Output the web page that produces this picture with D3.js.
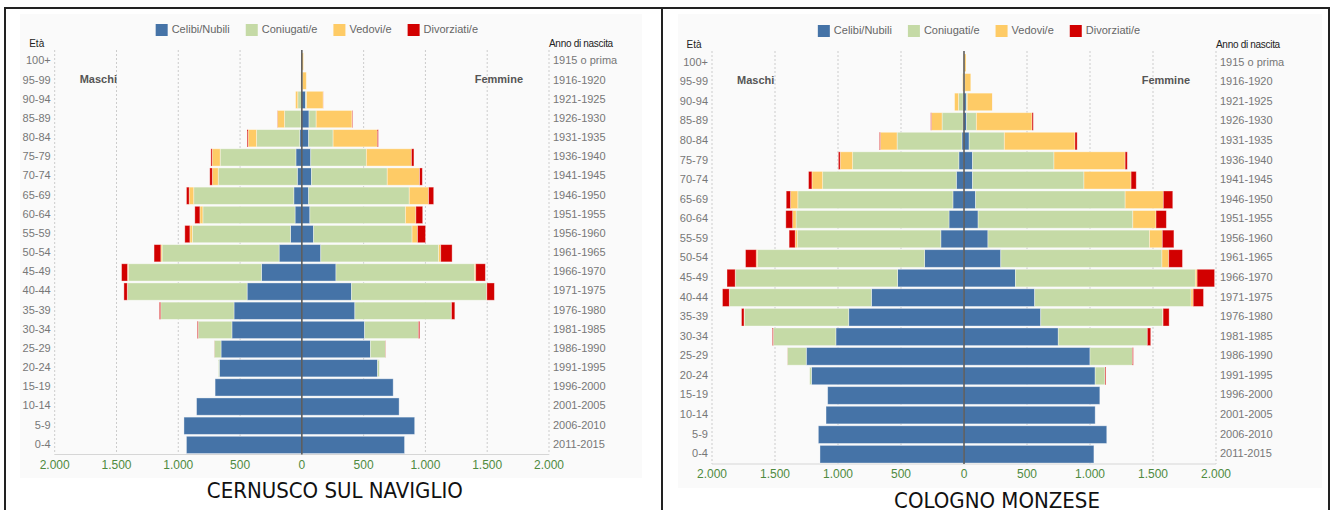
<!DOCTYPE html>
<html>
<head>
<meta charset="utf-8">
<script src="https://cdn.jsdelivr.net/npm/d3@7"></script>
<style>
  body { margin: 0; background: #fff; }
  svg { display: block; font-family: "Liberation Sans", Arial, sans-serif; }
</style>
</head>
<body>
<svg id="chart" width="1331" height="510"></svg>
<script>
// age classes, youngest first
const ages = ["0-4","5-9","10-14","15-19","20-24","25-29","30-34","35-39","40-44","45-49",
  "50-54","55-59","60-64","65-69","70-74","75-79","80-84","85-89","90-94","95-99","100+"];
const births = ["2011-2015","2006-2010","2001-2005","1996-2000","1991-1995","1986-1990","1981-1985",
  "1976-1980","1971-1975","1966-1970","1961-1965","1956-1960","1951-1955","1946-1950","1941-1945",
  "1936-1940","1931-1935","1926-1930","1921-1925","1916-1920","1915 o prima"];
const states = ["Celibi/Nubili", "Coniugati/e", "Vedovi/e", "Divorziati/e"];
const colors = ["#4573a7", "#c5daa6", "#fecb66", "#d20000"];
const ticks = [-2000, -1500, -1000, -500, 0, 500, 1000, 1500, 2000];

// Cernusco sul Naviglio: [celibi, coniugati, vedovi, divorziati]
const cernuscoM = [[934,0,0,0],[954,0,0,0],[852,0,0,0],[702,0,0,0],[668,7,0,0],[654,55,0,1],
  [566,273,0,7],[549,593,1,10],[443,968,2,27],[327,1077,7,48],[184,947,10,55],[92,794,20,41],
  [55,746,24,41],[65,810,37,22],[37,640,48,20],[48,613,65,10],[17,350,68,8],[7,133,58,2],
  [3,30,18,0],[0,2,6,0],[0,0,3,0]];
const cernuscoF = [[831,0,0,0],[913,0,0,0],[787,0,0,0],[739,0,0,0],[613,14,0,0],[555,123,0,2],
  [508,436,0,10],[429,780,2,27],[402,1094,1,61],[276,1121,10,78],[153,954,17,92],[95,797,44,65],
  [65,773,85,55],[55,814,157,41],[78,613,262,22],[72,450,365,20],[55,198,358,8],[58,58,290,5],
  [30,8,135,1],[1,3,32,0],[0,1,12,0]];

// Cologno Monzese
const colognoM = [[1143,0,0,0],[1156,0,0,0],[1095,0,0,0],[1082,0,0,0],[1211,14,0,0],[1252,150,0,1],
  [1017,497,0,7],[915,830,1,20],[735,1126,2,54],[527,1286,3,65],[313,1326,10,85],[184,1139,17,48],
  [119,1214,27,54],[88,1231,58,34],[61,1061,85,27],[41,843,99,14],[17,514,133,7],[7,167,85,5],
  [7,37,31,0],[1,2,8,0],[0,0,4,0]];
const colognoF = [[1031,0,0,0],[1133,0,0,0],[1041,0,0,0],[1078,0,0,0],[1041,78,0,7],[1000,337,0,7],
  [748,707,0,27],[609,969,2,48],[561,1241,17,82],[408,1428,14,139],[292,1279,54,109],[190,1282,102,92],
  [112,1228,184,82],[92,1187,303,75],[68,884,374,41],[68,646,565,17],[41,279,561,17],[20,78,442,10],
  [18,8,200,1],[3,3,48,0],[0,1,15,0]];

const svg = d3.select("#chart");
const fmt = v => d3.format(",")(Math.abs(v)).replace(/,/g, ".");

// outer frame
svg.append("rect").attr("x", 20).attr("y", 14).attr("width", 622).attr("height", 464).attr("fill", "#fafafa");
svg.append("rect").attr("x", 678).attr("y", 14).attr("width", 644).attr("height", 474).attr("fill", "#fafafa");
svg.append("rect").attr("x", 5).attr("y", 8).attr("width", 1324).attr("height", 520)
  .attr("fill", "none").attr("stroke", "#222").attr("stroke-width", 2);
svg.append("line").attr("x1", 662).attr("x2", 662).attr("y1", 8).attr("y2", 510)
  .attr("stroke", "#222").attr("stroke-width", 2);

function pyramid(o) {
  const g = svg.append("g");
  const x = d3.scaleLinear().domain([-2000, 2000]).range([o.x0, o.x1]);
  const y = d3.scaleBand().domain(ages.slice().reverse()).range([o.top, o.bottom]).paddingInner(0.1).paddingOuter(0.05);
  const cx = x(0);

  // grid
  g.selectAll(".grid").data(ticks.filter(t => t !== 0)).enter().append("line")
    .attr("x1", d => x(d)).attr("x2", d => x(d))
    .attr("y1", o.top - 2).attr("y2", o.bottom)
    .attr("stroke", "#ccc").attr("stroke-dasharray", "2,2");
  g.append("line").attr("x1", o.x0).attr("x2", o.x1).attr("y1", o.bottom).attr("y2", o.bottom)
    .attr("stroke", "#d6d6d6");

  // bars
  const stackRows = (rows, sign) => {
    const out = [];
    rows.forEach((r, i) => {
      let acc = 0;
      r.forEach((v, k) => {
        out.push({ age: ages[i], k: k, a: acc * sign, b: (acc + v) * sign });
        acc += v;
      });
    });
    return out.filter(d => d.a !== d.b);
  };
  [[o.m, -1], [o.f, 1]].forEach(([rows, sign]) => {
    g.append("g").selectAll("rect").data(stackRows(rows, sign)).enter().append("rect")
      .attr("x", d => Math.min(x(d.a), x(d.b)))
      .attr("width", d => Math.abs(x(d.b) - x(d.a)))
      .attr("y", d => y(d.age))
      .attr("height", y.bandwidth())
      .attr("fill", d => colors[d.k])
      .attr("stroke", "#fff").attr("stroke-opacity", 0.45).attr("stroke-width", 0.8);
  });

  g.append("line").attr("x1", cx).attr("x2", cx).attr("y1", o.top - 2).attr("y2", o.bottom)
    .attr("stroke", "#555").attr("stroke-width", 1.5);

  // x axis labels
  g.selectAll(".tick").data(ticks).enter().append("text")
    .attr("x", d => x(d)).attr("y", o.axisY)
    .attr("text-anchor", "middle").attr("dominant-baseline", "middle")
    .attr("font-size", 12).attr("fill", "#4f8a3f").text(fmt);

  // age labels and years
  g.selectAll(".age").data(ages).enter().append("text")
    .attr("x", o.x0 - 4).attr("y", d => y(d) + y.bandwidth() / 2)
    .attr("text-anchor", "end").attr("dominant-baseline", "middle")
    .attr("font-size", 11).attr("fill", "#777").text(d => d);
  g.selectAll(".year").data(births).enter().append("text")
    .attr("x", o.x1 + 4).attr("y", (d, i) => y(ages[i]) + y.bandwidth() / 2)
    .attr("dominant-baseline", "middle")
    .attr("font-size", 11).attr("fill", "#777").text(d => d);

  g.append("text").attr("x", o.x0 - 18).attr("y", o.top - 5).attr("text-anchor", "middle")
    .attr("font-size", 10).attr("fill", "#222").text("Età");
  g.append("text").attr("x", o.x1).attr("y", o.top - 5)
    .attr("font-size", 10).attr("fill", "#222").attr("letter-spacing", -0.3).text("Anno di nascita");
  g.append("text").attr("x", o.x0 + 25).attr("y", o.top + 28).attr("dominant-baseline", "middle")
    .attr("font-size", 11).attr("font-weight", "bold").attr("fill", "#555").text("Maschi");
  g.append("text").attr("x", o.x1 - 26).attr("y", o.top + 28).attr("dominant-baseline", "middle")
    .attr("text-anchor", "end")
    .attr("font-size", 11).attr("font-weight", "bold").attr("fill", "#555").text("Femmine");

  // legend
  const lg = g.append("g");
  let lx = 0;
  states.forEach((s, i) => {
    lg.append("rect").attr("x", lx).attr("y", -6).attr("width", 12).attr("height", 12).attr("fill", colors[i]);
    const t = lg.append("text").attr("x", lx + 16).attr("y", 0).attr("dominant-baseline", "middle")
      .attr("font-size", 11).attr("fill", "#666").text(s);
    lx += 16 + t.node().getComputedTextLength() + 16;
  });
  lx -= 16;
  lg.attr("transform", `translate(${cx + 15 - lx / 2},${o.legendY})`);

  // title
  g.append("text").attr("x", cx + 33).attr("y", o.titleY).attr("text-anchor", "middle")
    .attr("dominant-baseline", "middle")
    .attr("font-family", "'Liberation Sans Narrow', 'DejaVu Sans Condensed', sans-serif")
    .attr("font-size", 22).attr("fill", "#111").text(o.title);
}

pyramid({ m: cernuscoM, f: cernuscoF, x0: 54.7, x1: 549, top: 52, bottom: 454.5,
  axisY: 466, legendY: 30, titleY: 492, title: "CERNUSCO SUL NAVIGLIO" });
pyramid({ m: colognoM, f: colognoF, x0: 712, x1: 1216, top: 53, bottom: 464,
  axisY: 475, legendY: 31, titleY: 502, title: "COLOGNO MONZESE" });
</script>
</body>
</html>
